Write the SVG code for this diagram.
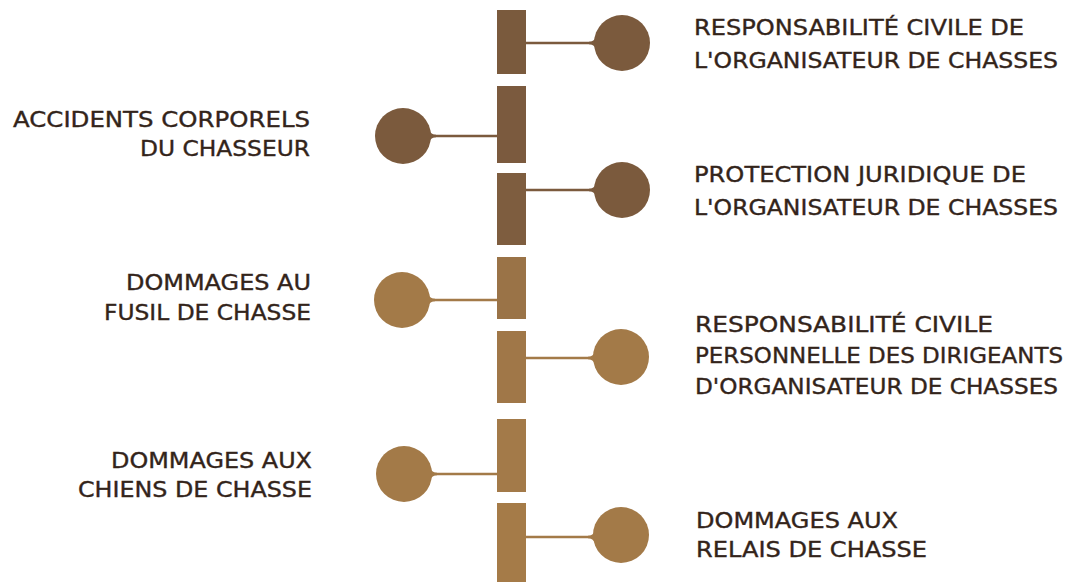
<svg xmlns="http://www.w3.org/2000/svg" width="1078" height="582" viewBox="0 0 1078 582">
  <style>
    .lbl { font-family: "DejaVu Sans", "Liberation Sans", sans-serif; font-size: 21px; fill: #33241a; stroke: #33241a; stroke-width: 0.35; }
    .end { text-anchor: end; }
    .dark { fill: #7b5a3d; }
    .gold { fill: #a37a48; }
    .ldark { stroke: #7b5a3d; stroke-width: 2.6; fill: none; }
    .lgold { stroke: #a37a48; stroke-width: 2.6; fill: none; }
  </style>
  <rect width="1078" height="582" fill="#ffffff"/>

  <g id="spine">
    <rect x="497" y="10" width="29" height="64" fill="#7a5a3d"/>
    <rect x="497" y="86" width="29" height="77" fill="#7b5a3e"/>
    <rect x="497" y="173" width="29" height="72" fill="#7e5d3f"/>
    <rect x="497" y="257" width="29" height="62" fill="#9a7347"/>
    <rect x="497" y="331" width="29" height="72" fill="#a07748"/>
    <rect x="497" y="419" width="29" height="73" fill="#a37a49"/>
    <rect x="497" y="503" width="29" height="79" fill="#a57b48"/>
  </g>

  <g id="connectors">
    <line class="ldark" x1="526" y1="43" x2="596" y2="43"/>
    <line class="ldark" x1="431" y1="136" x2="497" y2="136"/>
    <line class="ldark" x1="526" y1="190" x2="596" y2="190"/>
    <line class="lgold" x1="430" y1="300" x2="497" y2="300"/>
    <line class="lgold" x1="526" y1="358" x2="595" y2="358"/>
    <line class="lgold" x1="432" y1="474" x2="497" y2="474"/>
    <line class="lgold" x1="526" y1="537" x2="595" y2="537"/>
  </g>

  <g id="node-rc-organisateur">
    <path class="dark" d="M589,41.7 Q594,41.7 596,37 L596,49 Q594,44.3 589,44.3 Z"/>
    <circle class="dark" cx="622" cy="43" r="28"/>
    <text class="lbl" x="694" y="35" textLength="330" lengthAdjust="spacingAndGlyphs">RESPONSABILITÉ CIVILE DE</text>
    <text class="lbl" x="694" y="68" textLength="364" lengthAdjust="spacingAndGlyphs">L'ORGANISATEUR DE CHASSES</text>
  </g>

  <g id="node-accidents">
    <path class="dark" d="M436,134.7 Q431,134.7 429,130 L429,142 Q431,137.3 436,137.3 Z"/>
    <circle class="dark" cx="403" cy="136" r="28"/>
    <text class="lbl end" x="310" y="127" textLength="297" lengthAdjust="spacingAndGlyphs">ACCIDENTS CORPORELS</text>
    <text class="lbl end" x="310" y="156" textLength="170" lengthAdjust="spacingAndGlyphs">DU CHASSEUR</text>
  </g>

  <g id="node-protection">
    <path class="dark" d="M589,188.7 Q594,188.7 596,184 L596,196 Q594,191.3 589,191.3 Z"/>
    <circle class="dark" cx="622" cy="190" r="28"/>
    <text class="lbl" x="694" y="182" textLength="332" lengthAdjust="spacingAndGlyphs">PROTECTION JURIDIQUE DE</text>
    <text class="lbl" x="694" y="215" textLength="364" lengthAdjust="spacingAndGlyphs">L'ORGANISATEUR DE CHASSES</text>
  </g>

  <g id="node-fusil">
    <path class="gold" d="M435,298.7 Q430,298.7 428,294 L428,306 Q430,301.3 435,301.3 Z"/>
    <circle class="gold" cx="402" cy="300" r="28"/>
    <text class="lbl end" x="311" y="290" textLength="185" lengthAdjust="spacingAndGlyphs">DOMMAGES AU</text>
    <text class="lbl end" x="311" y="320" textLength="207" lengthAdjust="spacingAndGlyphs">FUSIL DE CHASSE</text>
  </g>

  <g id="node-rc-dirigeants">
    <path class="gold" d="M588,356.7 Q593,356.7 595,352 L595,364 Q593,359.3 588,359.3 Z"/>
    <circle class="gold" cx="621" cy="357" r="28"/>
    <text class="lbl" x="695" y="332" textLength="298" lengthAdjust="spacingAndGlyphs">RESPONSABILITÉ CIVILE</text>
    <text class="lbl" x="695" y="363" textLength="368" lengthAdjust="spacingAndGlyphs">PERSONNELLE DES DIRIGEANTS</text>
    <text class="lbl" x="695" y="394" textLength="363" lengthAdjust="spacingAndGlyphs">D'ORGANISATEUR DE CHASSES</text>
  </g>

  <g id="node-chiens">
    <path class="gold" d="M437,472.7 Q432,472.7 430,468 L430,480 Q432,475.3 437,475.3 Z"/>
    <circle class="gold" cx="404" cy="474" r="28"/>
    <text class="lbl end" x="312" y="468" textLength="201" lengthAdjust="spacingAndGlyphs">DOMMAGES AUX</text>
    <text class="lbl end" x="312" y="497" textLength="234" lengthAdjust="spacingAndGlyphs">CHIENS DE CHASSE</text>
  </g>

  <g id="node-relais">
    <path class="gold" d="M588,535.7 Q593,535.7 595,531 L595,543 Q593,538.3 588,538.3 Z"/>
    <circle class="gold" cx="621" cy="535" r="28"/>
    <text class="lbl" x="696" y="528" textLength="202" lengthAdjust="spacingAndGlyphs">DOMMAGES AUX</text>
    <text class="lbl" x="696" y="557" textLength="231" lengthAdjust="spacingAndGlyphs">RELAIS DE CHASSE</text>
  </g>
</svg>
